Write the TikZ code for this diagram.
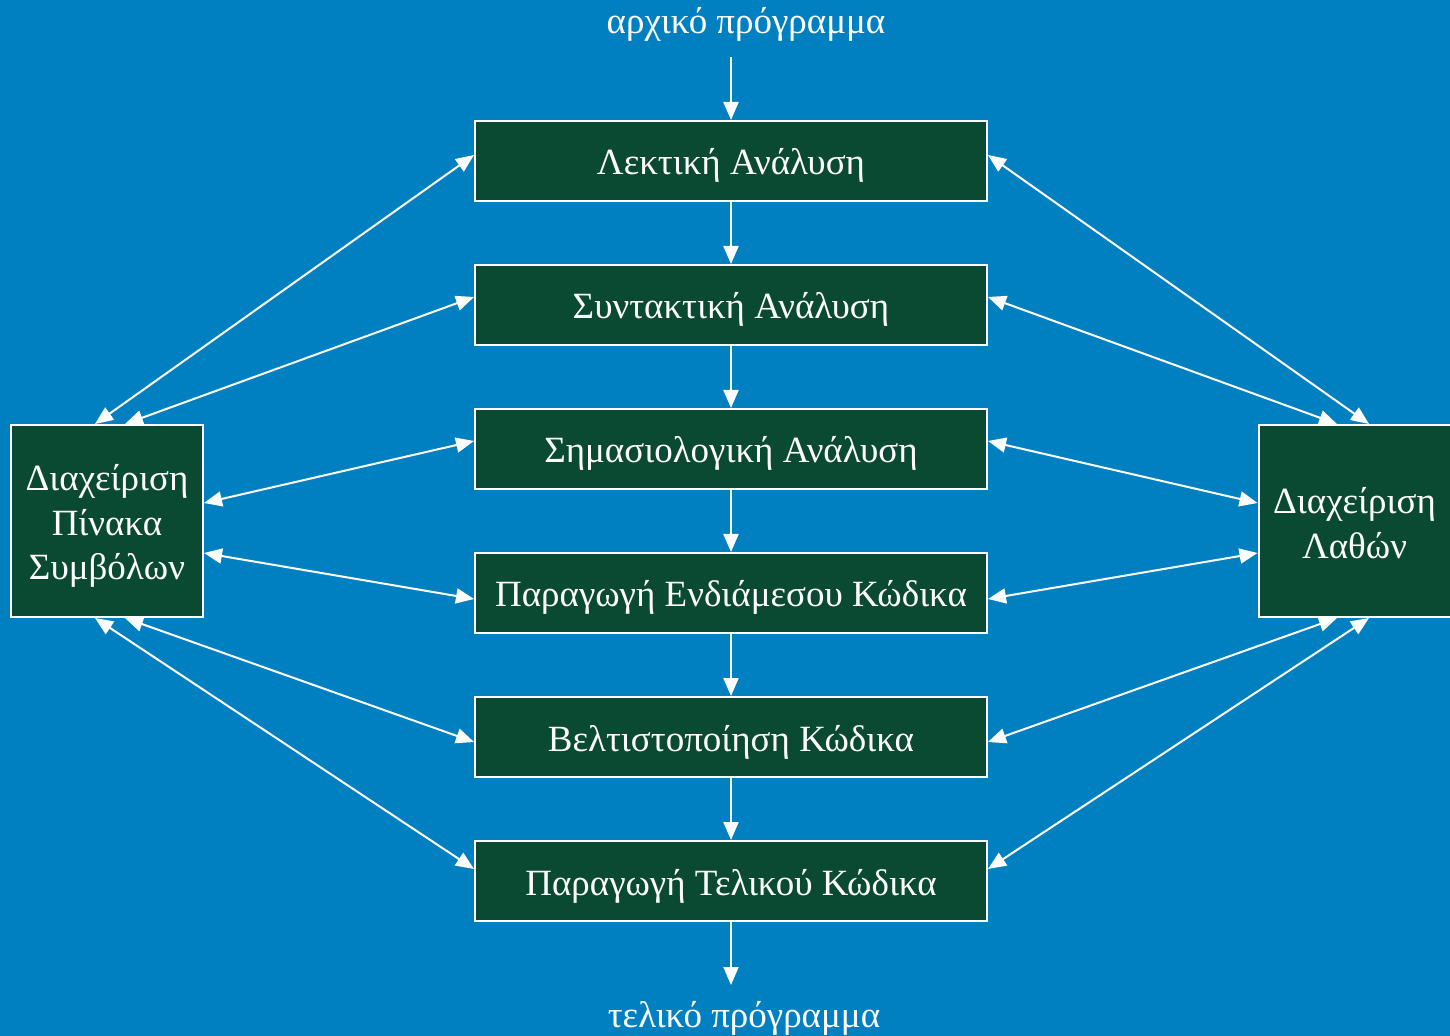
\documentclass[tikz,border=0pt]{standalone}
\usepackage{fontspec}
\setmainfont{Liberation Serif}
\usetikzlibrary{arrows.meta,calc}
\definecolor{bg}{HTML}{0080C0}
\definecolor{boxg}{HTML}{0B4A32}
\begin{document}
\begin{tikzpicture}[x=0.5pt,y=-0.5pt,
 stage/.style={draw=white,line width=1pt,fill=boxg,text=white,minimum width=256pt,minimum height=40pt,inner sep=0pt,text height=16pt,text depth=2pt,font=\fontsize{18.5}{22}\selectfont},
 side/.style={draw=white,line width=1pt,fill=boxg,minimum width=96pt,minimum height=96pt,inner sep=0pt},
 sidetext/.style={text=white,align=center,inner sep=0pt,font=\fontsize{18.5}{22.2}\selectfont},
 link/.style={white,line width=1pt,-{Triangle[length=9pt,width=7.5pt]}},
 dlink/.style={white,line width=1pt,{Triangle[length=9pt,width=7.5pt]}-{Triangle[length=9pt,width=7.5pt]}},
 lbl/.style={text=white,inner sep=0pt,font=\fontsize{18.5}{22}\selectfont}]
\fill[bg] (0,0) rectangle (1450,1036);
\useasboundingbox (0,0) rectangle (1450,1036);
\node[stage] (s1) at (731,161) {Λεκτική Ανάλυση};
\node[stage] (s2) at (731,305) {Συντακτική Ανάλυση};
\node[stage] (s3) at (731,449) {Σημασιολογική Ανάλυση};
\node[stage] (s4) at (731,593) {Παραγωγή Ενδιάμεσου Κώδικα};
\node[stage] (s5) at (731,737) {Βελτιστοποίηση Κώδικα};
\node[stage] (s6) at (731,881) {Παραγωγή Τελικού Κώδικα};
\node[side,label={[sidetext,yshift=-2.5pt]center:Διαχείριση\\Πίνακα\\Συμβόλων}] (L) at (107,521) {};
\node[side,label={[sidetext,yshift=-1pt]center:Διαχείριση\\Λαθών}] (R) at (1354.5,521) {};
\node[lbl] (in) at (746,24) {αρχικό πρόγραμμα};
\node[lbl] (out) at (744,1018) {τελικό πρόγραμμα};
\coordinate (top) at (731,57);
\coordinate (bot) at (731,985);
\draw[link] (top) -- (s1.north);
\draw[link] (s1.south) -- (s2.north);
\draw[link] (s2.south) -- (s3.north);
\draw[link] (s3.south) -- (s4.north);
\draw[link] (s4.south) -- (s5.north);
\draw[link] (s5.south) -- (s6.north);
\draw[link] (s6.south) -- (bot);
% left
\draw[dlink] ($(L.north)+(-12,0)$) -- ($(s1.west)+(0,-6)$);
\draw[dlink] ($(L.north)+(18,0)$) -- ($(s2.west)+(0,-8)$);
\draw[dlink] ($(L.east)+(0,-18)$) -- ($(s3.west)+(0,-8)$);
\draw[dlink] ($(L.east)+(0,32)$) -- ($(s4.west)+(0,6)$);
\draw[dlink] ($(L.south)+(18,0)$) -- ($(s5.west)+(0,5)$);
\draw[dlink] ($(L.south)+(-12,0)$) -- ($(s6.west)+(0,-12)$);
% right
\draw[dlink] ($(s1.east)+(0,-6)$) -- ($(R.north)+(14.5,0)$);
\draw[dlink] ($(s2.east)+(0,-8)$) -- ($(R.north)+(-17.5,0)$);
\draw[dlink] ($(s3.east)+(0,-8)$) -- ($(R.west)+(0,-18)$);
\draw[dlink] ($(s4.east)+(0,6)$) -- ($(R.west)+(0,32)$);
\draw[dlink] ($(s5.east)+(0,5)$) -- ($(R.south)+(-17.5,0)$);
\draw[dlink] ($(s6.east)+(0,-12)$) -- ($(R.south)+(14.5,0)$);
\end{tikzpicture}
\end{document}
